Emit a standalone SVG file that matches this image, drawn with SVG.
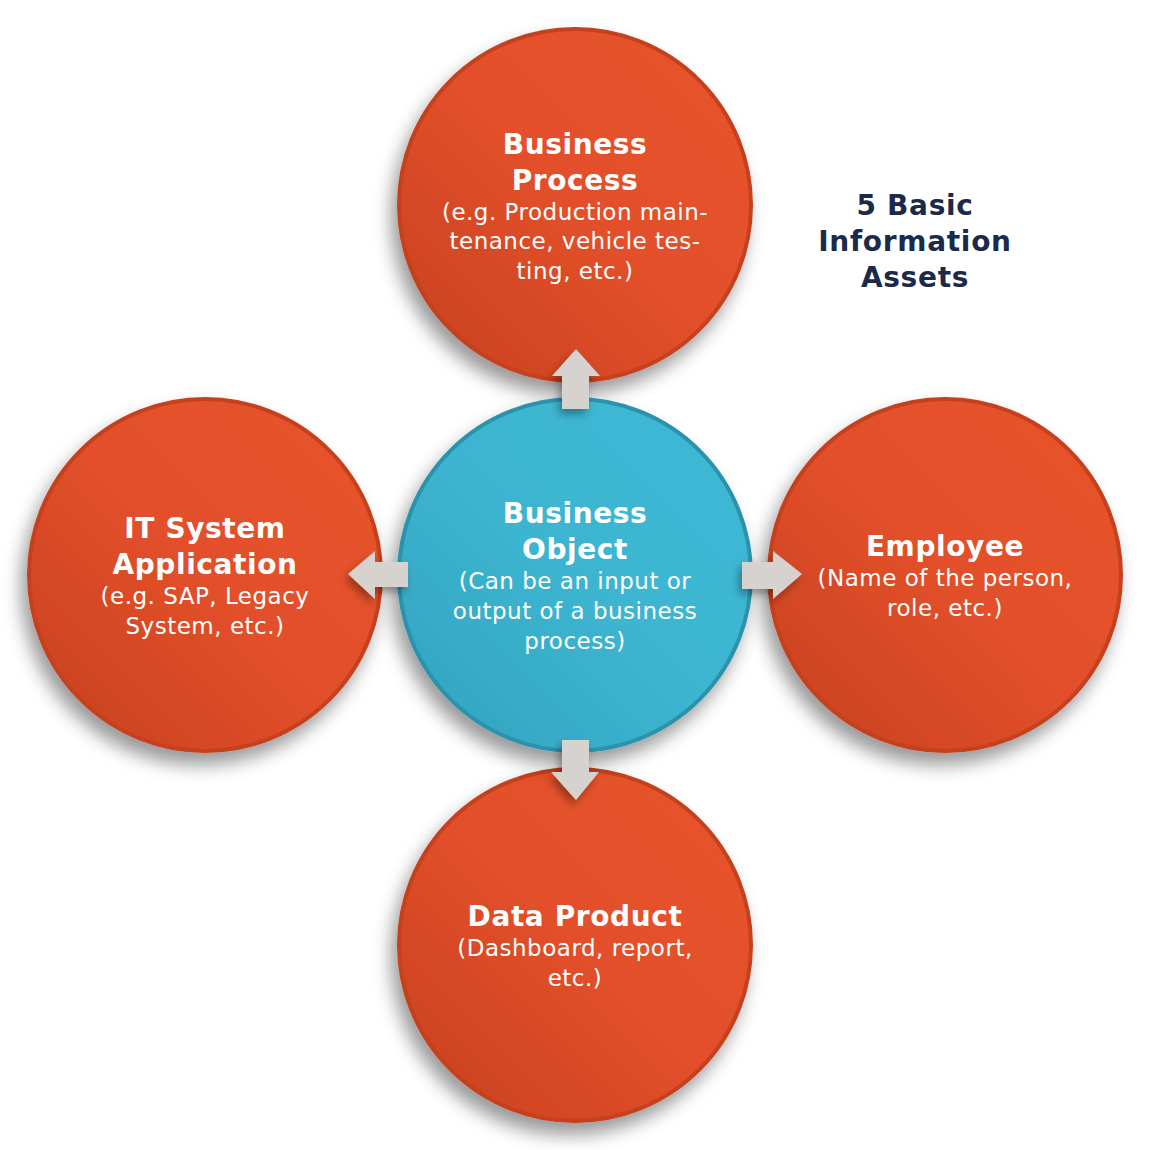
<svg xmlns="http://www.w3.org/2000/svg" width="1150" height="1150" viewBox="0 0 1150 1150">
<defs>
<linearGradient id="gOr" x1="0" y1="1" x2="1" y2="0">
<stop offset="0" stop-color="#c63f1f"/>
<stop offset="0.5" stop-color="#e2502a"/>
<stop offset="1" stop-color="#e8532a"/>
</linearGradient>
<linearGradient id="gBl" x1="0" y1="1" x2="1" y2="0">
<stop offset="0" stop-color="#33a2bd"/>
<stop offset="0.5" stop-color="#3cb5d1"/>
<stop offset="1" stop-color="#3fb9d5"/>
</linearGradient>
<filter id="sh" x="-30%" y="-30%" width="160%" height="170%">
<feDropShadow dx="-6" dy="12" stdDeviation="9" flood-color="#000" flood-opacity="0.4"/>
</filter>
<filter id="ash" x="-50%" y="-50%" width="200%" height="200%">
<feDropShadow dx="-3" dy="5" stdDeviation="4" flood-color="#000" flood-opacity="0.35"/>
</filter>
</defs>
<style>
.or{fill:url(#gOr);stroke:#c5401f;stroke-width:4}
.bl{fill:url(#gBl);stroke:#2c92aa;stroke-width:4}
.h{font-family:"DejaVu Sans",sans-serif;font-weight:bold;font-size:28px;letter-spacing:0.6px;fill:#fff;text-anchor:middle}
.s{font-family:"DejaVu Sans",sans-serif;font-size:23px;letter-spacing:0.5px;fill:#fff;text-anchor:middle}
.t{font-family:"DejaVu Sans",sans-serif;font-weight:bold;font-size:28px;letter-spacing:0.7px;fill:#1b2a4a;text-anchor:middle}
.ar{fill:#d6d2ce}
</style>
<rect width="1150" height="1150" fill="#fff"/>

<g id="business-process">
<circle class="or" cx="575" cy="205" r="176" filter="url(#sh)"/>
<text class="h" x="575" y="154">Business</text>
<text class="h" x="575" y="190">Process</text>
<text class="s" x="575" y="220">(e.g. Production main-</text>
<text class="s" x="575" y="249">tenance, vehicle tes-</text>
<text class="s" x="575" y="279">ting, etc.)</text>
</g>

<g id="it-system">
<circle class="or" cx="205" cy="575" r="176" filter="url(#sh)"/>
<text class="h" x="205" y="538">IT System</text>
<text class="h" x="205" y="574">Application</text>
<text class="s" x="205" y="604">(e.g. SAP, Legacy</text>
<text class="s" x="205" y="634">System, etc.)</text>
</g>

<g id="employee">
<circle class="or" cx="945" cy="575" r="176" filter="url(#sh)"/>
<text class="h" x="945" y="556">Employee</text>
<text class="s" x="945" y="586">(Name of the person,</text>
<text class="s" x="945" y="616">role, etc.)</text>
</g>

<g id="data-product">
<circle class="or" cx="575" cy="945" r="176" filter="url(#sh)"/>
<text class="h" x="575" y="926">Data Product</text>
<text class="s" x="575" y="956">(Dashboard, report,</text>
<text class="s" x="575" y="986">etc.)</text>
</g>

<g id="business-object">
<circle class="bl" cx="575" cy="575" r="176" filter="url(#sh)"/>
<text class="h" x="575" y="523">Business</text>
<text class="h" x="575" y="559">Object</text>
<text class="s" x="575" y="589">(Can be an input or</text>
<text class="s" x="575" y="619">output of a business</text>
<text class="s" x="575" y="649">process)</text>
</g>

<g id="title">
<text class="t" x="915" y="215">5 Basic</text>
<text class="t" x="915" y="251">Information</text>
<text class="t" x="915" y="287">Assets</text>
</g>

<g id="connectors">
<polygon class="ar" filter="url(#ash)" points="562,409 589,409 589,376 600,376 576,349 552,376 562,376"/>
<polygon class="ar" filter="url(#ash)" points="408,562 408,587 375,587 375,599 348,574 375,551 375,562"/>
<polygon class="ar" filter="url(#ash)" points="742,562 742,589 773,589 773,599 802,574 773,551 773,562"/>
<polygon class="ar" filter="url(#ash)" points="562,740 589,740 589,772 599,772 576,800 551,772 562,772"/>
</g>
</svg>
